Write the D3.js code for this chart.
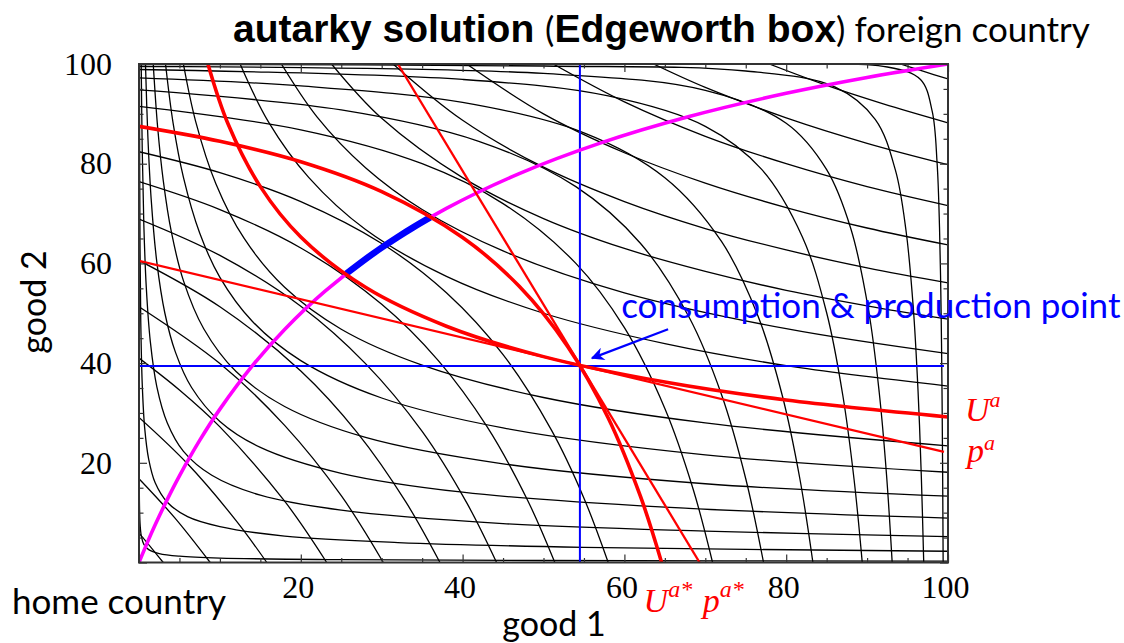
<!DOCTYPE html>
<html><head><meta charset="utf-8">
<script src="https://cdn.jsdelivr.net/npm/d3@7"></script>
<style>
html,body{margin:0;padding:0;background:#fff;}
svg{display:block;}
</style></head><body>
<svg id="chart" width="1124" height="643"></svg>
<script>
// ---------- data (good 1, good 2) ----------
// home-country indifference curves (convex to bottom-left origin)
const homeCurves = [
  [[0.0008,100],[0.002,63.2],[0.005,40],[0.012,25.8],[0.03,16.3],[0.07,10.7],[0.15,7.3],[0.3,5.2],[0.6,3.65],[1.2,2.58],[2.5,1.79],[5,1.26],[10,0.89],[25,0.57],[50,0.4],[100,0.28]],
  [[0.051,100],[0.08,80.0],[0.13,62.8],[0.22,48.2],[0.4,35.8],[0.7,27.0],[1.2,20.7],[2,16.0],[3.5,12.1],[6,9.2],[10,7.2],[18,5.3],[32,4.0],[55,3.05],[100,2.26]],
  [[0.274,100],[0.4,82.8],[0.6,67.6],[0.9,55.2],[1.4,44.3],[2.2,35.3],[3.5,28.0],[5.5,22.3],[9,17.5],[15,13.5],[25,10.5],[45,7.8],[70,6.3],[100,5.2]],
  [[0.8,100],[1.1,85.3],[1.5,73.0],[2.2,60.3],[3.2,50.0],[4.5,42.2],[6.5,35.1],[10,28.3],[15,23.1],[25,17.9],[40,14.1],[65,11.1],[100,8.9]],
  [[1.76,100],[2.3,87.4],[3,76.6],[4,66.3],[5.5,56.5],[8,46.9],[12,38.3],[18,31.3],[28,25.1],[45,19.8],[70,15.8],[100,13.3]],
  [[3.28,100],[4.2,88.3],[5.5,77.2],[7.5,66.1],[10,57.2],[14,48.4],[20,40.5],[30,33.0],[45,27.0],[70,21.6],[100,18.1]],
  [[5.49,100],[7,88.5],[9.5,76.0],[13,65.0],[18,55.2],[25,46.8],[35,39.6],[50,33.1],[70,28.0],[100,23.4]],
  [[8.52,100],[11,88.0],[15,75.4],[20,65.3],[28,55.2],[38,47.4],[50,41.3],[65,36.2],[80,32.6],[100,29.2]],
  [[12.5,100],[16,88.4],[21,77.2],[28,66.8],[38,57.4],[50,50.0],[65,43.9],[80,39.5],[100,35.4]],
  [[17.6,100],[22,89.4],[28,79.2],[35,70.8],[45,62.5],[60,54.1],[80,46.9],[100,41.9]],
  [[23.8,100],[30,89.1],[40,77.2],[50,69.0],[60,63.0],[70,58.4],[80,54.6],[90,51.5],[100,48.8]],
  [[31.4,100],[40,88.7],[50,79.3],[60,72.4],[70,67.0],[80,62.7],[90,59.1],[100,56.1]],
  [[40.5,100],[50,90.0],[60,82.2],[70,76.1],[80,71.2],[90,67.1],[100,63.7]],
  [[51.2,100],[60,92.4],[70,85.5],[80,80.0],[90,75.4],[100,71.6]],
  [[63.6,100],[70,95.3],[80,89.2],[90,84.1],[100,79.8]],
  [[77.9,100],[85,95.7],[92,92.0],[100,88.2]],
  [[94.1,100],[97,98.5],[100,97.0]]
];
// foreign-country indifference curves (convex to top-right origin)
const foreignCurves = [
  [[3.0,0],[1.5,3.0],[0,5.9]],
  [[8.8,0],[4.4,9.0],[0,16.8]],
  [[15.8,0],[12,8.4],[6,19.8],[0,29.1]],
  [[23.2,0],[18,12.3],[10,27.2],[5,34.6],[0,41.0]],
  [[30.2,0],[25,13.4],[18,27.5],[10,39.9],[0,51.3]],
  [[37.2,0],[33,12.1],[27,26.0],[20,38.4],[10,51.3],[0,60.6]],
  [[44.2,0],[40.5,12.0],[35,26.3],[28,39.9],[20,51.4],[10,61.6],[0,68.9]],
  [[51.4,0],[48,12.6],[43,27.3],[37,40.5],[30,51.8],[20,63.1],[10,70.8],[0,76.4]],
  [[58,0],[55,12.9],[51,26.5],[45,41.7],[38,54.1],[30,64.0],[20,72.4],[10,78.2],[0,82.4]],
  [[64.6,0],[62,13.2],[58,29.0],[53,43.3],[47,55.4],[40,65.2],[30,74.4],[20,80.4],[10,84.5],[0,87.5]],
  [[70.9,0],[68.5,14.7],[65,30.9],[60,47.1],[54,60.0],[45,72.0],[35,80.0],[20,86.8],[0,91.5]],
  [[77.2,0],[75,16.8],[72,33.7],[68,49.2],[62,64.0],[54,75.4],[42,84.5],[25,90.8],[0,94.8]],
  [[83.3,0],[81.7,16.7],[79.5,33.6],[76.5,49.5],[72,64.4],[65,77.2],[55,86.2],[40,92.3],[20,95.6],[0,97.2]],
  [[89.4,0],[88.4,16.5],[87,33.5],[85,50.1],[82,65.3],[77,78.8],[70,87.5],[58,93.6],[40,96.9],[0,98.9]],
  [[93.1,0],[92.4,17.6],[91.5,34.1],[90.2,50.4],[88,66.9],[85,78.8],[80,88.1],[70,94.7],[50,98.1],[0,99.5]],
  [[97,0],[96.7,17.4],[96.3,34.3],[95.7,51.3],[94.8,66.7],[93.5,78.7],[91,88.9],[86,95.4],[75,98.6],[50,99.6],[0,99.9]],
  [[99.4,0],[99.33,19.8],[99.25,36],[99.14,51.3],[98.95,67.3],[98.65,80.2],[98.05,90.5],[96.6,96.9],[92.5,99.4],[70,99.96]]
];
// contract curve (magenta) and the core segment on it (blue)
const contractCurve = [[0,0],[1,3.88],[2,7.55],[3.5,12.67],[5,17.39],[7.5,24.49],[10,30.77],[14,39.44],[18,46.75],[23,54.44],[30,63.16],[38,71.03],[47,78.01],[57,84.13],[68,89.47],[80,94.12],[90,97.3],[100,100]];
const coreSegment = [[25.6,57.92],[28,60.87],[30,63.16],[32,65.31],[34,67.33],[36,69.23]];
// autarky indifference curves U^a (home) and U^a* (foreign)
const homeAutarkyCurve = homeCurves[7];
const foreignAutarkyCurve = foreignCurves[9];
// autarky price lines
const priceLineHome = [[0,60.5],[99.5,22.2]];
const priceLineForeign = [[32.0,100],[69.3,0]];
// consumption & production point
const autarkyPoint = [54.5, 39.4];
const crossHorizontalEnd = 99.5;
const arrowFromTo = [[65.4,46.8],[56.0,41.0]];
const annotationAnchor = [59.6, 49.0];
// axes
const xTickLabels = [20,40,60,80,100];
const yTickLabels = [20,40,60,80,100];
const majorTicks = [0,20,40,60,80,100];
const minorTicks = [5,10,15,25,30,35,45,50,55,65,70,75,85,90,95];

// ---------- drawing ----------
const svg = d3.select("#chart");
const x = d3.scaleLinear().domain([0,100]).range([139,948]);
const y = d3.scaleLinear().domain([0,100]).range([562.5,64]);

const defs = svg.append("defs");
defs.append("clipPath").attr("id","plotclip").append("rect")
  .attr("x",x(0)).attr("y",y(100)).attr("width",x(100)-x(0)).attr("height",y(0)-y(100));
defs.append("marker").attr("id","arrowhead").attr("viewBox","0 0 10 10")
  .attr("refX",9).attr("refY",5).attr("markerWidth",7).attr("markerHeight",6)
  .attr("markerUnits","strokeWidth").attr("orient","auto")
  .append("path").attr("d","M0,0 L10,5 L0,10 L3,5 Z").attr("fill","#0000ff");

const curve = d3.line().x(d=>x(d[0])).y(d=>y(d[1])).curve(d3.curveCatmullRom.alpha(0.5));
const straight = d3.line().x(d=>x(d[0])).y(d=>y(d[1]));

const plot = svg.append("g").attr("clip-path","url(#plotclip)");

plot.append("g").selectAll("path").data(homeCurves).join("path")
  .attr("d",curve).attr("fill","none").attr("stroke","#000").attr("stroke-width",1.3);
plot.append("g").selectAll("path").data(foreignCurves).join("path")
  .attr("d",curve).attr("fill","none").attr("stroke","#000").attr("stroke-width",1.3);

// blue cross lines
plot.append("line").attr("x1",x(autarkyPoint[0])).attr("x2",x(autarkyPoint[0]))
  .attr("y1",y(0)).attr("y2",y(100)).attr("stroke","#0000ff").attr("stroke-width",2);
plot.append("line").attr("x1",x(0)).attr("x2",x(crossHorizontalEnd))
  .attr("y1",y(autarkyPoint[1])).attr("y2",y(autarkyPoint[1])).attr("stroke","#0000ff").attr("stroke-width",2);

// contract curve
plot.append("path").attr("d",curve(contractCurve)).attr("fill","none")
  .attr("stroke","#ff00ff").attr("stroke-width",3.6);
plot.append("path").attr("d",curve(coreSegment)).attr("fill","none")
  .attr("stroke","#0000ff").attr("stroke-width",6.5);

// price lines
plot.append("path").attr("d",straight(priceLineHome)).attr("fill","none").attr("stroke","#ff0000").attr("stroke-width",2.3);
plot.append("path").attr("d",straight(priceLineForeign)).attr("fill","none").attr("stroke","#ff0000").attr("stroke-width",2.3);
// autarky indifference curves
plot.append("path").attr("d",curve(homeAutarkyCurve)).attr("fill","none").attr("stroke","#ff0000").attr("stroke-width",3.6);
plot.append("path").attr("d",curve(foreignAutarkyCurve)).attr("fill","none").attr("stroke","#ff0000").attr("stroke-width",3.6);

// frame
svg.append("rect").attr("x",x(0)).attr("y",y(100)).attr("width",x(100)-x(0)).attr("height",y(0)-y(100))
  .attr("fill","none").attr("stroke","#333").attr("stroke-width",2);

function tickAxis(axis, tf, vals, size){
  const g = svg.append("g").attr("transform",tf)
    .call(axis.tickValues(vals).tickSize(size).tickFormat(""));
  g.select(".domain").remove();
  g.selectAll(".tick line").attr("stroke","#333").attr("stroke-width",1.2);
}
[[majorTicks,8],[minorTicks,4.5]].forEach(([v,s])=>{
  tickAxis(d3.axisTop(x), `translate(0,${y(0)})`, v, s);
  tickAxis(d3.axisBottom(x), `translate(0,${y(100)})`, v, s);
  tickAxis(d3.axisRight(y), `translate(${x(0)},0)`, v, s);
  tickAxis(d3.axisLeft(y), `translate(${x(100)},0)`, v, s);
});

// tick labels
const serif = "'Liberation Serif','Times New Roman',serif";
const xl = svg.append("g").attr("transform",`translate(0,${y(0)})`)
  .call(d3.axisBottom(x).tickValues(xTickLabels).tickSize(0).tickPadding(13));
xl.select(".domain").remove();
xl.selectAll("text").attr("font-family",serif)
  .attr("font-size",32).attr("fill","#000").attr("dx",-3);
const yl = svg.append("g").attr("transform",`translate(${x(0)},0)`)
  .call(d3.axisLeft(y).tickValues(yTickLabels).tickSize(0).tickPadding(27));
yl.select(".domain").remove();
yl.selectAll("text").attr("font-family",serif)
  .attr("font-size",32).attr("fill","#000");

// annotation
svg.append("line").attr("x1",x(arrowFromTo[0][0])).attr("y1",y(arrowFromTo[0][1]))
  .attr("x2",x(arrowFromTo[1][0])).attr("y2",y(arrowFromTo[1][1]))
  .attr("stroke","#0000ff").attr("stroke-width",2.2).attr("marker-end","url(#arrowhead)");
svg.append("text").attr("x",x(annotationAnchor[0])).attr("y",y(annotationAnchor[1]))
  .attr("font-family","Lato,'Open Sans',sans-serif").attr("font-size",35).attr("fill","#0000ff")
  .text("consumption & production point");

// red labels
function supLabel(px, py, base, sup, supSize, lift){
  const t = svg.append("text").attr("x",px).attr("y",py).attr("font-family",serif)
    .attr("font-style","italic").attr("fill","#ff0000").attr("font-size",34);
  t.append("tspan").text(base);
  t.append("tspan").attr("font-size",supSize).attr("dy",-lift).text(sup);
  return t;
}
const lastH = homeAutarkyCurve[homeAutarkyCurve.length-1];
const lastP = priceLineHome[priceLineHome.length-1];
supLabel(x(100)+17, y(lastH[1])+4, "U", "a", 22, 14);
supLabel(x(100)+19, y(lastP[1])+10, "p", "a", 22, 12);
supLabel(x(foreignAutarkyCurve[0][0])-18, y(0)+49, "U", "a*", 24, 15);
supLabel(x(priceLineForeign[1][0])+3, y(0)+49, "p", "a*", 24, 15);

// titles
const sans = "Lato,'Open Sans',sans-serif";
const boldSans = "'Liberation Sans',Arial,sans-serif";
const title = svg.append("text").attr("x",233).attr("y",42).attr("fill","#000");
title.append("tspan").attr("font-family",boldSans).attr("font-weight","bold").attr("font-size",39).text("autarky solution ");
title.append("tspan").attr("font-family",sans).attr("font-size",35).text("(");
title.append("tspan").attr("font-family",boldSans).attr("font-weight","bold").attr("font-size",39).text("Edgeworth box");
title.append("tspan").attr("font-family",sans).attr("font-size",35).text(")  foreign country");

svg.append("text").attr("x",12).attr("y",614).attr("font-family",sans).attr("font-size",35).attr("fill","#000").text("home country");
svg.append("text").attr("x",554).attr("y",636).attr("text-anchor","middle").attr("font-family",sans).attr("font-size",34).attr("fill","#000").text("good 1");
svg.append("text").attr("transform","translate(46,302) rotate(-90)").attr("text-anchor","middle")
  .attr("font-family",sans).attr("font-size",34).attr("fill","#000").text("good 2");
</script>
</body></html>
